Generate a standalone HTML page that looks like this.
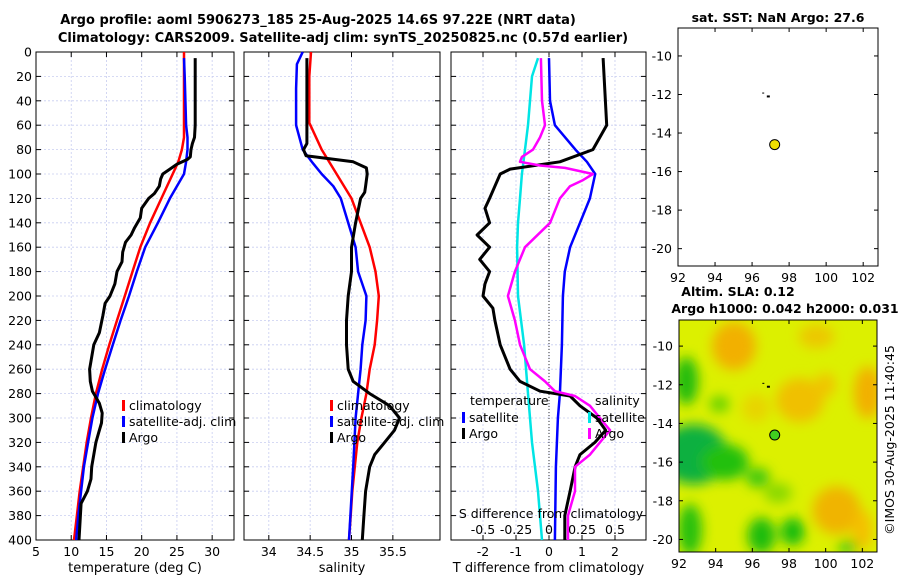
<!DOCTYPE html>
<html><head><meta charset="utf-8">
<style>
body{margin:0;background:#fff;}
svg{display:block;font-family:"DejaVu Sans","Liberation Sans",sans-serif;}
</style></head>
<body>
<svg id="fig" width="900" height="580" viewBox="0 0 900 580" xmlns="http://www.w3.org/2000/svg">
<defs>
<filter id="blur" x="-50%" y="-50%" width="200%" height="200%"><feGaussianBlur stdDeviation="6"/></filter>
<clipPath id="mapclip"><rect x="679" y="320" width="198" height="232"/></clipPath>
</defs>
<text x="318" y="24" font-size="13" font-weight="bold" text-anchor="middle">Argo profile: aoml 5906273_185 25-Aug-2025 14.6S 97.22E (NRT data)</text>
<text x="343" y="42" font-size="13" font-weight="bold" text-anchor="middle">Climatology: CARS2009. Satellite-adj clim: synTS_20250825.nc (0.57d earlier)</text>
<g id="plots"></g>
<text x="778" y="22" font-size="12.5" font-weight="bold" text-anchor="middle">sat. SST: NaN Argo: 27.6</text>
<text x="738" y="296" font-size="12.5" font-weight="bold" text-anchor="middle">Altim. SLA: 0.12</text>
<text x="785" y="313" font-size="12.5" font-weight="bold" text-anchor="middle">Argo h1000: 0.042 h2000: 0.031</text>
<text transform="translate(894,440) rotate(-90)" font-size="12.5" text-anchor="middle">©IMOS 30-Aug-2025 11:40:45</text>
</svg>
<script>
// ---- data (depth in dbar) ----
const tClimDepth=[0,20,40,60,70,80,90,100,120,140,160,180,200,220,240,260,280,300,320,340,360,380,400];
const tClimVal=[26,26,26,26,26,25.7,25.2,24.4,22.8,21.2,19.8,18.7,17.6,16.5,15.4,14.4,13.5,12.8,12.2,11.7,11.2,10.8,10.4];
const tSatDepth=[5,20,40,60,70,80,90,100,110,120,140,160,180,200,220,240,260,280,300,320,340,360,380,400];
const tSatVal=[26,26.1,26.2,26.3,26.5,26.5,26.3,26,25,24,22.3,20.5,19.3,18.2,17,15.9,14.8,13.8,13,12.4,11.8,11.4,11,10.7];
const tArgoDepth=[5,20,60,70,75,80,86,88,92,96,100,104,110,116,120,128,136,144,150,156,164,172,180,190,200,206,216,230,240,250,260,270,278,282,288,296,304,312,320,330,340,350,360,370,380,400];
const tArgoVal=[27.6,27.6,27.6,27.5,27.2,27,26.9,26.5,25,24,23,22.7,22.5,21.8,21,20,19.8,19,18.5,17.7,17.3,17.2,16.5,16.2,15.5,14.8,14.5,14,13.2,12.9,12.6,12.7,13,13.4,14,14.4,14.3,13.9,13.5,13.2,12.9,12.8,12.3,11.4,11.3,11.1];
const sClimDepth=[0,20,58,80,100,120,140,160,180,200,220,240,260,280,300,320,340,360,380,400];
const sClimVal=[34.51,34.49,34.49,34.64,34.82,35.0,35.11,35.22,35.29,35.33,35.31,35.28,35.22,35.18,35.12,35.07,35.04,35.01,34.99,34.97];
const sSatDepth=[0,10,30,60,80,90,100,110,120,140,160,180,200,220,240,260,280,300,340,400];
const sSatVal=[34.41,34.34,34.33,34.33,34.41,34.52,34.64,34.78,34.87,34.96,35.05,35.08,35.18,35.17,35.13,35.11,35.08,35.05,35.02,34.97];
const sArgoDepth=[5,60,75,80,85,90,95,100,110,115,120,140,160,180,200,220,240,260,270,280,290,300,310,320,330,340,360,380,400];
const sArgoVal=[34.46,34.46,34.46,34.42,34.45,35.02,35.18,35.19,35.17,35.16,35.11,35.05,35.0,35.0,34.96,34.94,34.94,34.96,35.02,35.22,35.46,35.58,35.52,35.4,35.28,35.22,35.17,35.15,35.13];
const dTArgoDepth=[5,60,80,90,96,100,110,120,128,140,150,160,170,180,190,200,210,220,240,260,270,278,282,290,300,310,320,330,340,360,380,400];
const dTArgoVal=[1.64,1.75,1.33,0.33,-1.18,-1.48,-1.64,-1.8,-1.94,-1.8,-2.18,-1.8,-2.1,-1.8,-1.94,-2.0,-1.7,-1.64,-1.48,-1.18,-0.88,-0.27,0.64,0.94,1.45,1.72,1.39,0.94,0.79,0.64,0.48,0.48];
const dTSatDepth=[5,40,60,80,90,100,120,140,160,180,200,240,280,300,340,400];
const dTSatVal=[0,0.03,0.18,0.8,1.15,1.4,1.24,0.94,0.64,0.48,0.42,0.39,0.33,0.27,0.21,0.18];
const dSSatDepth=[5,20,40,60,80,100,120,140,160,200,240,280,320,360,400];
const dSSatVal=[-0.083,-0.129,-0.144,-0.159,-0.182,-0.205,-0.220,-0.235,-0.242,-0.235,-0.189,-0.159,-0.129,-0.083,-0.053];
const dSArgoDepth=[5,40,60,70,80,86,90,93,95,100,105,110,120,140,160,180,200,220,240,260,270,278,282,290,300,310,320,330,340,360,380,400];
const dSArgoVal=[-0.061,-0.053,-0.030,-0.068,-0.121,-0.205,-0.220,-0.068,0.121,0.333,0.258,0.159,0.083,0.008,-0.182,-0.258,-0.311,-0.258,-0.220,-0.144,-0.030,0.045,0.197,0.311,0.386,0.462,0.386,0.311,0.197,0.197,0.144,0.144];
const yTicks=[0,20,40,60,80,100,120,140,160,180,200,220,240,260,280,300,320,340,360,380,400];
const tTicks=[5,10,15,20,25,30];
const sTicks=[34,34.5,35,35.5];
const dTTicks=[-2,-1,0,1,2];
const dSTicks=[-0.5,-0.25,0,0.25,0.5];
const dSTickLabels=['-0.5','-0.25','0','0.25','0.5'];
const lonTicks=[92,94,96,98,100,102];
const latTicks=[-10,-12,-14,-16,-18,-20];
const argoLon=97.22, argoLat=-14.6;

const NS='http://www.w3.org/2000/svg';
const g=document.getElementById('plots');
function el(tag,attrs,parent,txt){const e=document.createElementNS(NS,tag);for(const k in attrs)e.setAttribute(k,attrs[k]);if(txt!==undefined)e.textContent=txt;(parent||g).appendChild(e);return e;}
const Y0=52,Y1=540;
const yScale=d=>Y0+(d/400)*(Y1-Y0);

function panel(name,x0,x1,xmin,xmax,ticks,labels,showY,xlabel){
  const xs=v=>x0+(v-xmin)/(xmax-xmin)*(x1-x0);
  const pg=el('g',{});
  
  
  yTicks.forEach(d=>{const y=yScale(d);
    if(d>0&&d<400){const gl=el('line',{x1:x0,x2:x1,y1:y,y2:y,stroke:'#c8cdf0','stroke-width':0.8,'stroke-dasharray':'2,2'},pg);}
    el('line',{x1:x0,x2:x0+5,y1:y,y2:y,stroke:'#000'},pg);el('line',{x1:x1-5,x2:x1,y1:y,y2:y,stroke:'#000'},pg);
    if(showY){const t=el('text',{x:x0-4,y:y+4.5,'font-size':12.5,'text-anchor':'end'},pg,String(d));}
  });
  ticks.forEach((v,i)=>{const x=xs(v);
    const gl=el('line',{x1:x,x2:x,y1:Y0,y2:Y1,stroke:'#c8cdf0','stroke-width':0.8,'stroke-dasharray':'2,2'},pg);
    el('line',{x1:x,x2:x,y1:Y1,y2:Y1-5,stroke:'#000'},pg);el('line',{x1:x,x2:x,y1:Y0,y2:Y0+5,stroke:'#000'},pg);
    if(labels){const t=el('text',{x:x,y:556,'font-size':12.5,'text-anchor':'middle'},pg,labels[i]);}
  });
  el('rect',{x:x0,y:Y0,width:x1-x0,height:Y1-Y0,fill:'none',stroke:'#000','stroke-width':1},pg);
  const xl=el('text',{x:(x0+x1)/2,y:572,'font-size':13,'text-anchor':'middle'},pg,xlabel);
  
  return {xs,pg};
}
function line(p,depths,vals,color,name,w){
  const pts=depths.map((d,i)=>p.xs(vals[i]).toFixed(1)+','+yScale(d).toFixed(1)).join(' ');
  const l=el('polyline',{points:pts,fill:'none',stroke:color,'stroke-width':w||2.5,'stroke-linejoin':'round'},p.pg);
  
  
}
function legend(p,x,y,items){
  items.forEach((it,i)=>{const yy=y+i*16;
    el('rect',{x:x,y:yy-9,width:3,height:11,fill:it[1]},p.pg);
    const t=el('text',{x:x+7,y:yy+1,'font-size':12.5},p.pg,it[0]);
    
    
  });
}
const p1=panel('temperature-panel',36,234,5,33.1,tTicks,tTicks.map(String),true,'temperature (deg C)');
line(p1,tClimDepth,tClimVal,'#ff0000','climatology-temp-line');
line(p1,tSatDepth,tSatVal,'#0000ff','satellite-temp-line');
line(p1,tArgoDepth,tArgoVal,'#000','argo-temp-line',3);
legend(p1,122,409,[['climatology','#f00'],['satellite-adj. clim','#00f'],['Argo','#000']]);
const p2=panel('salinity-panel',244,440,33.70,36.07,sTicks,sTicks.map(String),false,'salinity');
line(p2,sClimDepth,sClimVal,'#ff0000','climatology-sal-line');
line(p2,sSatDepth,sSatVal,'#0000ff','satellite-sal-line');
line(p2,sArgoDepth,sArgoVal,'#000','argo-sal-line',3);
legend(p2,330,409,[['climatology','#f00'],['satellite-adj. clim','#00f'],['Argo','#000']]);
const p3=panel('difference-panel',451,646,-2.97,2.94,dTTicks,dTTicks.map(String),false,'T difference from climatology');
const zx=p3.xs(0);
el('line',{x1:zx,x2:zx,y1:Y0,y2:Y1,stroke:'#333','stroke-width':1,'stroke-dasharray':'1,2'},p3.pg);
const sAsT=a=>a.map(v=>v*4);
line(p3,dSSatDepth,sAsT(dSSatVal),'#00e5e5','satellite-sal-diff-line');
line(p3,dTSatDepth,dTSatVal,'#0000ff','satellite-temp-diff-line');
line(p3,dTArgoDepth,dTArgoVal,'#000','argo-temp-diff-line',3);
line(p3,dSArgoDepth,sAsT(dSArgoVal),'#ff00ff','argo-sal-diff-line');
let t=el('text',{x:470,y:405,'font-size':12.5},p3.pg,'temperature');
t=el('text',{x:595,y:405,'font-size':12.5},p3.pg,'salinity');
legend(p3,462,421,[['satellite','#00f'],['Argo','#000']]);
legend(p3,588,421,[['satellite','#00e5e5'],['Argo','#f0f']]);
t=el('text',{x:551,y:518,'font-size':12.5,'text-anchor':'middle'},p3.pg,'S difference from climatology');
dSTicks.forEach((v,i)=>{const x=p3.xs(v*4);const tt=el('text',{x:x,y:534,'font-size':12.5,'text-anchor':'middle'},p3.pg,dSTickLabels[i]);});

function mapAxes(name,x0,y0,x1,y1,latTop,latBot){
  const lonS=v=>x0+(v-92)/(102.8-92)*(x1-x0);
  const latS=v=>y0+(latTop-v)/(latTop-latBot)*(y1-y0);
  const mg=el('g',{});
  
  
  return {lonS,latS,mg,x0,y0,x1,y1};
}
function mapFrame(m){
  lonTicks.forEach(v=>{const x=m.lonS(v);el('line',{x1:x,x2:x,y1:m.y1,y2:m.y1-4,stroke:'#000'},m.mg);el('line',{x1:x,x2:x,y1:m.y0,y2:m.y0+4,stroke:'#000'},m.mg);
    const tt=el('text',{x:x,y:m.y1+16,'font-size':12.5,'text-anchor':'middle'},m.mg,String(v));});
  latTicks.forEach(v=>{const y=m.latS(v);el('line',{x1:m.x0,x2:m.x0+4,y1:y,y2:y,stroke:'#000'},m.mg);el('line',{x1:m.x1,x2:m.x1-4,y1:y,y2:y,stroke:'#000'},m.mg);
    const tt=el('text',{x:m.x0-6,y:y+4.5,'font-size':12.5,'text-anchor':'end'},m.mg,String(v));});
  el('rect',{x:m.x0,y:m.y0,width:m.x1-m.x0,height:m.y1-m.y0,fill:'none',stroke:'#000'},m.mg);
}
const m1=mapAxes('sst-map',678,28,878,266,-8.55,-20.9);
mapFrame(m1);
el('rect',{x:m1.lonS(96.6)-1,y:m1.latS(-11.9),width:2,height:1,fill:'#000'},m1.mg);
el('rect',{x:m1.lonS(96.85)-1,y:m1.latS(-12.05),width:3,height:2,fill:'#000'},m1.mg);
let dot=el('circle',{cx:m1.lonS(argoLon),cy:m1.latS(argoLat),r:5,fill:'#f0e000',stroke:'#000','stroke-width':1},m1.mg);


const m2=mapAxes('sla-map',679,320,877,552,-8.65,-20.65);
const field=el('g',{'clip-path':'url(#mapclip)'},m2.mg);


el('rect',{x:679,y:320,width:198,height:232,fill:'#dcf000'},field);
const bl=el('g',{filter:'url(#blur)'},field);
const blobs=[[95,-10,22,24,'#f2b000'],[98.6,-12.8,24,22,'#f0c000'],[102.3,-12.4,14,26,'#f2b000'],[100.6,-18.5,24,24,'#f0b400'],[102,-19.5,10,20,'#f4c000'],[96.2,-13.2,14,14,'#e8d400'],[99.5,-9.5,18,12,'#ecc800'],[100,-12,10,12,'#f0c400'],
 [92.8,-15.6,34,30,'#10b040'],[92.4,-11.8,12,24,'#20bc10'],[94.5,-16,24,18,'#20c010'],[96.3,-16.8,12,10,'#40c808'],[96.5,-19.8,14,18,'#1cbc10'],[98.2,-19.6,12,14,'#18bc10'],[92.6,-19.5,12,26,'#28c010'],[101.2,-20.4,10,6,'#38c410'],[94.2,-13,10,8,'#60d000'],[97.4,-17.6,14,10,'#88d800']];
blobs.forEach(b=>el('ellipse',{cx:m2.lonS(b[0]),cy:m2.latS(b[1]),rx:b[2],ry:b[3],fill:b[4]},bl));
mapFrame(m2);
el('rect',{x:m2.lonS(96.6)-1,y:m2.latS(-11.9),width:2,height:1,fill:'#000'},m2.mg);
el('rect',{x:m2.lonS(96.85)-1,y:m2.latS(-12.05),width:3,height:2,fill:'#000'},m2.mg);
dot=el('circle',{cx:m2.lonS(argoLon),cy:m2.latS(argoLat),r:5,fill:'#40d020',stroke:'#000','stroke-width':1},m2.mg);

</script>
</body></html>
